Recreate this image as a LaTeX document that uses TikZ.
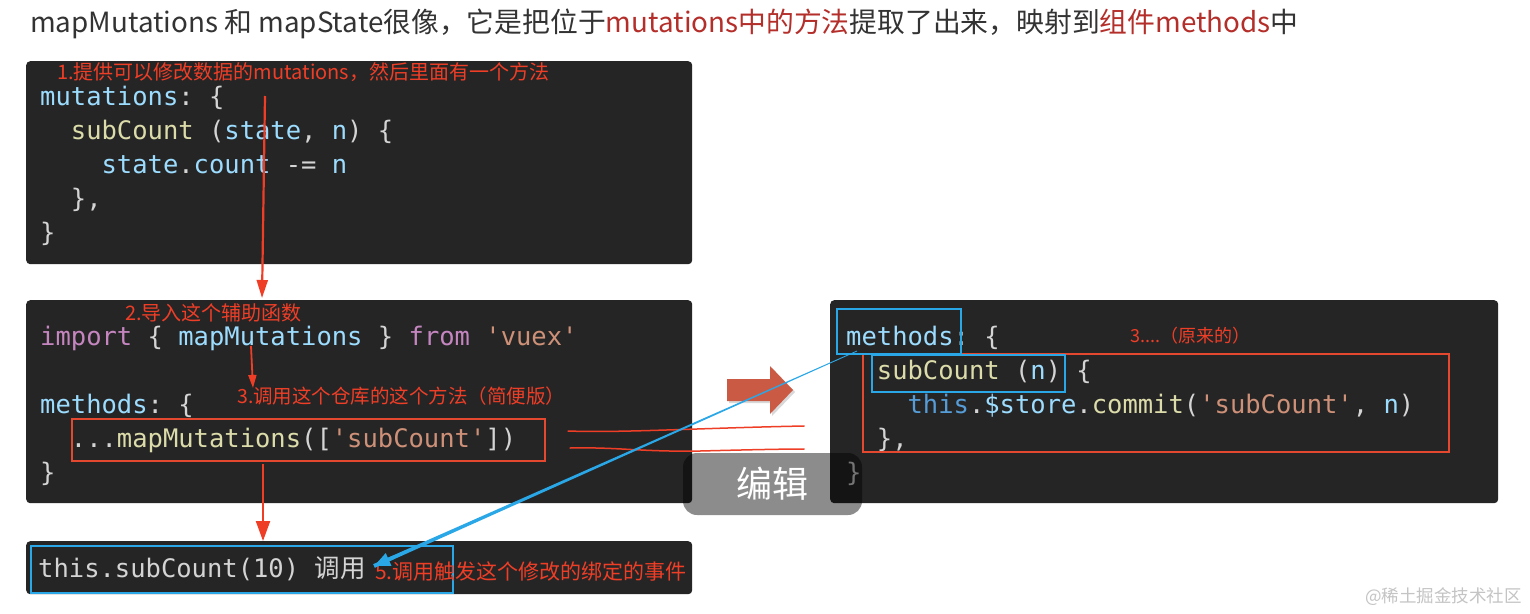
\documentclass[tikz,border=0pt]{standalone}
\usepackage{fontspec}
\newfontfamily\cjkfont{Noto Sans CJK SC}
\newfontfamily\codefont{DejaVu Sans Mono}
\usetikzlibrary{arrows.meta,calc,shadows}
\definecolor{codebg}{HTML}{252526}
\definecolor{codefg}{HTML}{D4D4D4}
\definecolor{codevar}{HTML}{9CDCFE}
\definecolor{codefn}{HTML}{DCDCAA}
\definecolor{codestr}{HTML}{CE9178}
\definecolor{codekw}{HTML}{C586C0}
\definecolor{codethis}{HTML}{569CD6}
\definecolor{titlegray}{HTML}{333333}
\definecolor{titlered}{HTML}{B42E2A}
\definecolor{notered}{HTML}{EF3E26}
\definecolor{framered}{HTML}{E4482E}
\definecolor{frameblue}{HTML}{2AA7E6}
\definecolor{salmon}{HTML}{CB5A45}
\definecolor{wmgray}{HTML}{C4C4C4}
\newcommand\cv[1]{\textcolor{codevar}{#1}}
\newcommand\cf[1]{\textcolor{codefn}{#1}}
\newcommand\cstr[1]{\textcolor{codestr}{#1}}
\newcommand\ck[1]{\textcolor{codekw}{#1}}
\newcommand\cthis[1]{\textcolor{codethis}{#1}}
\newcommand\sq{\textquotesingle}
\tikzset{
  % kodrutor
  codebox/.style={fill=codebg,rounded corners=4pt,anchor=north west,inner sep=0pt},
  codeline/.style={anchor=base west,inner sep=0pt,text=codefg,
                   font=\fontsize{25.5}{30}\selectfont\codefont\frenchspacing},
  note/.style={anchor=west,inner sep=0pt,text=notered,
               font=\fontsize{20}{24}\selectfont\cjkfont},
  redframe/.style={draw=framered,line width=1.6pt,anchor=north west,inner sep=0pt},
  blueframe/.style={draw=frameblue,line width=1.8pt,anchor=north west,inner sep=0pt},
  % pilar
  redarrow/.style={draw=notered,line width=2.2pt},
  handred/.style={draw=notered,line width=1.5pt,line cap=round},
  editbadge/.style={fill=black,fill opacity=0.45,text opacity=1,text=white,
                    rounded corners=14pt,minimum width=179pt,minimum height=62pt,
                    font=\fontsize{36}{40}\selectfont\cjkfont},
}
\begin{document}
\begin{tikzpicture}[x=1pt,y=-1pt]
  \useasboundingbox (0,0) rectangle (1530,613);
  \fill[white] (0,0) rectangle (1530,613);
  % rubrik
  \node[anchor=base west,inner sep=0pt,text=titlegray,
        font=\fontsize{27.8}{32}\selectfont\cjkfont] (title) at (30,32)
    {mapMutations 和 mapState很像，它是把位于\textcolor{titlered}{mutations中的方法}提取了出来，映射到\textcolor{titlered}{组件methods}中};
  % rutor
  \node[codebox,minimum width=666pt,minimum height=203pt] (boxA) at (26,61) {};
  \node[codebox,minimum width=666pt,minimum height=203pt] (boxB) at (26,300) {};
  \node[codebox,minimum width=668pt,minimum height=203pt] (boxC) at (830,300) {};
  \node[codebox,minimum width=666pt,minimum height=53pt] (boxD) at (26,541) {};
  % mutations
  \node[note] (note1) at (57,72) {1.提供可以修改数据的mutations，然后里面有一个方法};
  \node[codeline] (a1) at (40,105) {\cv{mutations}: \{};
  \node[codeline] (a2) at (70.7,139) {\cf{subCount} (\cv{state}, \cv{n}) \{};
  \node[codeline] (a3) at (101.4,173) {\cv{state}.\cv{count} -= \cv{n}};
  \node[codeline] (a4) at (70.7,207) {\},};
  \node[codeline] (a5) at (40,241) {\}};
  % import
  \node[note] (note2) at (125,313) {2.导入这个辅助函数};
  \node[codeline] (b1) at (40,345) {\ck{import} \{ \cv{mapMutations} \} \ck{from} \cstr{\sq vuex\sq}};
  \node[codeline] (b2) at (40,413) {\cv{methods}: \{};
  \node[note,font=\fontsize{19.5}{24}\selectfont\cjkfont] (note3) at (237,396) {3.调用这个仓库的这个方法（简便版）};
  \node[codeline] (b3) at (70.7,447) {...\cf{mapMutations}([\cstr{\sq subCount\sq}])};
  \node[codeline] (b4) at (40,481) {\}};
  \node[redframe,minimum width=473pt,minimum height=42pt] (mapframe) at (71,418) {};
  % methods
  \node[codeline] (c1) at (846,345) {\cv{methods}: \{};
  \node[note,font=\fontsize{18}{22}\selectfont\cjkfont] (note4) at (1130,336) {3....（原来的）};
  \node[codeline] (c2) at (876.7,379) {\cf{subCount} (\cv{n}) \{};
  \node[codeline] (c3) at (907.4,413) {\cthis{this}.\cv{\$store}.\cf{commit}(\cstr{\sq subCount\sq}, \cv{n})};
  \node[codeline] (c4) at (876.7,447) {\},};
  \node[codeline] (c5) at (846,481) {\}};
  \node[redframe,minimum width=586pt,minimum height=98pt] (origframe) at (862,353) {};
  \node[blueframe,minimum width=124pt,minimum height=45pt] (mbox) at (836,308) {};
  \node[blueframe,minimum width=193pt,minimum height=37pt] (subbox) at (871,354) {};
  % anrop
  \node[codeline] (d1) at (38,577) {this.subCount(10) {\cjkfont 调用}};
  \node[blueframe,minimum width=422pt,minimum height=47pt] (callbox) at (30,545) {};
  \node[note,font=\fontsize{21}{24}\selectfont\cjkfont] (note5) at (375,571) {5.调用触发这个修改的绑定的事件};
  % röda pilar
  \coordinate (r1s) at (265,96);  \coordinate (r1e) at (262,298);
  \coordinate (r2s) at (251,346); \coordinate (r2e) at (253,388);
  \coordinate (r3s) at (263,464); \coordinate (r3e) at (263,541);
  \draw[redarrow,-{Triangle[length=18pt,width=11pt]}] (r1s) -- (r1e);
  \draw[redarrow,line width=1.8pt,-{Triangle[length=13pt,width=8pt]}] (r2s) -- (r2e);
  \draw[redarrow,-{Triangle[length=20pt,width=14pt]}] (r3s) -- (r3e);
  \draw[handred] (568,431) .. controls (620,433) and (700,428) .. (804,426);
  \draw[handred] (570,448) .. controls (620,447) and (640,452) .. (700,451)
                 .. controls (740,450) and (780,449) .. (804,449);
  % blockpil
  \fill[salmon,drop shadow={shadow xshift=2pt,shadow yshift=-2pt,fill=black!30,opacity=0.5}]
    (727,379) -- (770,379) -- (770,366) -- (793,390) -- (770,414) -- (770,401) -- (727,401) -- cycle;
  % blå pil
  \coordinate (bstart) at (857,351);
  \coordinate (btip) at (374,566);
  \fill[frameblue] ($(bstart)!0.4pt!90:(btip)$) -- ($(bstart)!0.4pt!-90:(btip)$)
    -- ($(btip)!2pt!90:(bstart)$) -- ($(btip)!2pt!-90:(bstart)$) -- cycle;
  \draw[frameblue,line width=3.6pt,-{Triangle[length=16pt,width=13pt]}]
    ($(btip)!22pt!(bstart)$) -- (btip);
  % redigera
  \node[editbadge] (edit) at (772.5,484) {编辑};
  % vattenmärke
  \node[anchor=east,inner sep=0pt,text=wmgray,font=\fontsize{17.5}{20}\selectfont\cjkfont]
    (wm) at (1522,597) {@稀土掘金技术社区};
\end{tikzpicture}
\end{document}
